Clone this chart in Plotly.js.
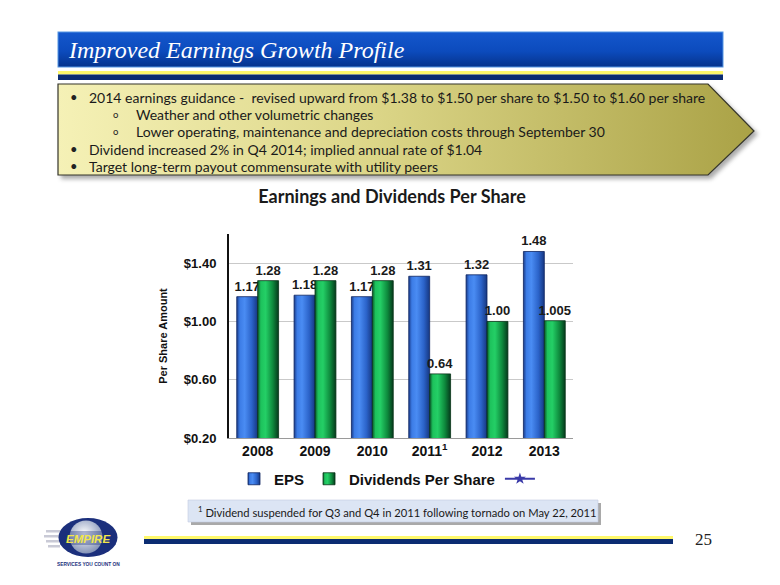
<!DOCTYPE html>
<html><head><meta charset="utf-8">
<script src="https://cdn.plot.ly/plotly-3.0.1.min.js"></script>
<style>html,body{margin:0;padding:0;background:#fff}#chart{width:780px;height:585px}</style>
</head><body><div id="chart"></div>
<script>
// ---- data ----
const years = ['2008', '2009', '2010', '2011', '2012', '2013'];
const yearLabels = ['2008', '2009', '2010', '2011<sup>1</sup>', '2012', '2013'];
const eps = [1.17, 1.18, 1.17, 1.31, 1.32, 1.48];
const epsLabels = ['1.17', '1.18', '1.17', '1.31', '1.32', '1.48'];
const dividends = [1.28, 1.28, 1.28, 0.64, 1.00, 1.005];
const dividendLabels = ['1.28', '1.28', '1.28', '0.64', '1.00', '1.005'];
const unnamedSeries = [null, null, null, null, null, null];
const yTickVals = [0.2, 0.6, 1.0, 1.4];
const yTickText = ['$0.20', '$0.60', '$1.00', '$1.40'];
const seriesNames = ['EPS', 'Dividends Per Share', ' '];
const slideTitle = 'Improved Earnings Growth Profile';
const chartTitle = 'Earnings and Dividends Per Share';
const yAxisTitle = 'Per Share Amount';
const bulletLines = [
  {lvl: 0, text: '2014 earnings guidance -  revised upward from $1.38 to $1.50 per share to $1.50 to $1.60 per share'},
  {lvl: 1, text: 'Weather and other volumetric changes'},
  {lvl: 1, text: 'Lower operating, maintenance and depreciation costs through September 30'},
  {lvl: 0, text: 'Dividend increased 2% in Q4 2014; implied annual rate of $1.04'},
  {lvl: 0, text: 'Target long-term payout commensurate with utility peers'}
];
const footnote = '<sup>1</sup> Dividend suspended for Q3 and Q4 in 2011 following tornado on May 22, 2011';
const pageNumber = '25';

// ---- geometry helpers (plot area in px) ----
const PL = 229, PR = 573, PT = 234, PB = 438;
const PW = PR - PL, PH = PB - PT;
const px = x => (x - PL) / PW;
const py = y => (PB - y) / PH;

const bgSvg = `<svg xmlns='http://www.w3.org/2000/svg' width='780' height='585' viewBox='0 0 780 585'>
<defs>
<linearGradient id='tb' x1='0' y1='0' x2='0' y2='1'><stop offset='0' stop-color='#1457cc'/><stop offset='0.55' stop-color='#0c4bbd'/><stop offset='1' stop-color='#06338c'/></linearGradient>
<linearGradient id='ar' x1='0' y1='0' x2='1' y2='0'><stop offset='0' stop-color='#f5f1b6'/><stop offset='0.45' stop-color='#dcd688'/><stop offset='1' stop-color='#aaa246'/></linearGradient>
<radialGradient id='gl' cx='0.45' cy='0.4' r='0.65'><stop offset='0' stop-color='#ffffff'/><stop offset='1' stop-color='#7a8ab2'/></radialGradient>
<filter id='sh' x='-5%' y='-5%' width='110%' height='120%'><feGaussianBlur stdDeviation='2'/></filter>
</defs>
<rect x='58' y='32' width='665' height='35' fill='url(#tb)' stroke='#5596e4' stroke-width='1'/>
<polygon points='61,87 711,87 758,134 711,179 61,179' fill='#666' opacity='0.55' filter='url(#sh)'/>
<polygon points='58,84 708,84 754,131 708,175 58,175' fill='url(#ar)' stroke='#34342a' stroke-width='1.2'/>
<rect x='46' y='530' width='14' height='2.5' fill='#c9cad6'/>
<rect x='44' y='535' width='16' height='2.5' fill='#c9cad6'/>
<rect x='46' y='540' width='14' height='2.5' fill='#c9cad6'/>
<rect x='48' y='545' width='12' height='2.5' fill='#c9cad6'/>
<ellipse cx='88' cy='537.5' rx='29.5' ry='19.5' fill='#1b2f7c'/>
<circle cx='86' cy='537' r='16.5' fill='url(#gl)'/>
<rect x='60' y='531' width='56' height='14' fill='#1b2f7c' opacity='0.35'/>
</svg>`;

const epsTrace = {
  type: 'bar', name: seriesNames[0], x: years, y: eps,
  text: epsLabels, textposition: 'outside', constraintext: 'none', cliponaxis: false,
  textfont: {family: 'Arial', size: 13, color: '#1a1a1a', weight: 'bold'},
  marker: {color: '#2f6fdc', line: {color: '#0e2560', width: 0.8}},
  hoverinfo: 'skip'
};
const divTrace = {
  type: 'bar', name: seriesNames[1], x: years, y: dividends,
  text: dividendLabels, textposition: 'outside', constraintext: 'none', cliponaxis: false,
  textfont: {family: 'Arial', size: 13, color: '#1a1a1a', weight: 'bold'},
  marker: {color: '#12a84a', line: {color: '#073318', width: 0.8}},
  hoverinfo: 'skip'
};
const lineTrace = {
  type: 'scatter', mode: 'lines+markers', name: seriesNames[2], x: years, y: unnamedSeries,
  line: {color: '#3a3aa8', width: 2}, marker: {symbol: 'star', size: 9, color: '#3a3aa8'},
  hoverinfo: 'skip'
};

const annFont = (fam, size, color, extra) => Object.assign({family: fam, size: size, color: color}, extra || {});
const annotations = [];
annotations.push({xref: 'paper', yref: 'paper', x: px(66), y: py(50), xanchor: 'left', yanchor: 'middle', showarrow: false,
  text: slideTitle, font: annFont('Liberation Serif', 24, '#ffffff', {style: 'italic'})});
const lineY = [97, 114, 131, 149, 166];
bulletLines.forEach((b, i) => {
  const bx = b.lvl === 0 ? 74 : 115;
  const tx = b.lvl === 0 ? 87 : 134;
  annotations.push({xref: 'paper', yref: 'paper', x: px(bx), y: py(lineY[i]), xanchor: 'center', yanchor: 'middle', showarrow: false,
    text: b.lvl === 0 ? '•' : 'o', font: annFont('Lato', b.lvl === 0 ? 13 : 9.5, '#222')});
  annotations.push({xref: 'paper', yref: 'paper', x: px(tx), y: py(lineY[i]), xanchor: 'left', yanchor: 'middle', showarrow: false,
    text: b.text, font: annFont('Lato', 14, '#1a1a1a')});
});
annotations.push({xref: 'paper', yref: 'paper', x: px(196), y: py(511), xanchor: 'left', yanchor: 'middle', showarrow: false,
  text: footnote, font: annFont('Lato', 11.2, '#1a1a1a')});
annotations.push({xref: 'paper', yref: 'paper', x: px(703), y: py(539), xanchor: 'center', yanchor: 'middle', showarrow: false,
  text: pageNumber, font: annFont('Liberation Serif', 17, '#222')});
annotations.push({xref: 'paper', yref: 'paper', x: px(88), y: py(538.5), xanchor: 'center', yanchor: 'middle', showarrow: false,
  text: 'EMPIRE', font: annFont('Arial', 11.5, '#f2e64a', {weight: 'bold', style: 'italic'})});
annotations.push({xref: 'paper', yref: 'paper', x: px(88), y: py(564), xanchor: 'center', yanchor: 'middle', showarrow: false,
  text: 'SERVICES YOU COUNT ON', font: annFont('Arial', 4.8, '#1b2f7c', {weight: 'bold'})});

const rect = (x0, y0, x1, y1, fill, line) => ({type: 'rect', xref: 'paper', yref: 'paper', layer: 'below',
  x0: px(x0), x1: px(x1), y0: py(y1), y1: py(y0), fillcolor: fill, line: line || {width: 0}});
const shapes = [
  rect(58, 71, 723, 74.5, '#fff86a'),
  rect(58, 74.5, 723, 80, '#0b2c72'),
  rect(144, 536, 673, 539, '#fff86a'),
  rect(144, 539, 673, 544, '#0b2c72'),
  rect(191, 503, 601, 525, '#a9a9a9'),
  rect(188, 500, 598, 522, '#dce5f4', {color: '#c3cbe0', width: 0.6})
];

const layout = {
  width: 780, height: 585,
  margin: {l: PL, r: 780 - PR, t: PT, b: 585 - PB, pad: 0},
  paper_bgcolor: '#ffffff', plot_bgcolor: 'rgba(0,0,0,0)',
  barmode: 'group', bargap: 0.27, bargroupgap: 0,
  showlegend: true,
  legend: {orientation: 'h', x: px(392), xanchor: 'center', y: py(479), yanchor: 'middle',
    font: {family: 'Arial', size: 15, color: '#111', weight: 'bold'}, itemwidth: 30, bgcolor: 'rgba(0,0,0,0)'},
  title: {text: chartTitle, x: 392 / 780, xanchor: 'center', xref: 'container', y: 1 - 197 / 585, yanchor: 'middle', yref: 'container',
    font: {family: 'Lato', size: 18, weight: 'bold', color: '#1a1a1a'}},
  xaxis: {type: 'category', tickvals: years, ticktext: yearLabels, showline: true, linecolor: '#9a9a9a', linewidth: 1,
    ticks: '', showgrid: false, tickfont: {family: 'Arial', size: 14, color: '#111', weight: 'bold'}, fixedrange: true},
  yaxis: {range: [0.2, 1.6], tickvals: yTickVals, ticktext: yTickText, showgrid: true, gridcolor: '#c9c9c9', gridwidth: 1,
    showline: true, linecolor: '#111', linewidth: 2, zeroline: false, ticks: '', ticklabelstandoff: 8,
    tickfont: {family: 'Arial', size: 13, color: '#111', weight: 'bold'},
    title: {text: yAxisTitle, standoff: 14, font: {family: 'Arial', size: 11, color: '#111', weight: 'bold'}}, fixedrange: true},
  images: [{source: 'data:image/svg+xml;charset=utf-8,' + encodeURIComponent(bgSvg), xref: 'paper', yref: 'paper',
    x: px(0), y: py(0), sizex: 780 / PW, sizey: 585 / PH, xanchor: 'left', yanchor: 'top', sizing: 'stretch', layer: 'below'}],
  shapes: shapes,
  annotations: annotations
};

const gd = document.getElementById('chart');
Plotly.newPlot(gd, [epsTrace, divTrace, lineTrace], layout, {displayModeBar: false, staticPlot: true}).then(() => {
  const svg = gd.querySelector('svg.main-svg');
  const NS = 'http://www.w3.org/2000/svg';
  const defs = document.createElementNS(NS, 'defs');
  const mk = (id, stops) => {
    const g = document.createElementNS(NS, 'linearGradient');
    g.setAttribute('id', id); g.setAttribute('x1', '0'); g.setAttribute('x2', '1'); g.setAttribute('y1', '0'); g.setAttribute('y2', '0');
    stops.forEach(s => { const st = document.createElementNS(NS, 'stop'); st.setAttribute('offset', s[0]); st.setAttribute('stop-color', s[1]); g.appendChild(st); });
    defs.appendChild(g);
  };
  mk('gradEPS', [[0, '#1a3d8c'], [0.15, '#3c7ce6'], [0.38, '#4a8cf3'], [0.72, '#2b63c9'], [1, '#163781']]);
  mk('gradDIV', [[0, '#0a5628'], [0.15, '#1dc25c'], [0.38, '#24cf66'], [0.72, '#0e8a3d'], [1, '#053a1c']]);
  svg.insertBefore(defs, svg.firstChild);
  const grads = ['url(#gradEPS)', 'url(#gradDIV)'];
  gd.querySelectorAll('.barlayer .trace').forEach((t, i) => {
    t.querySelectorAll('.point path').forEach(p => { p.style.fill = grads[i]; });
  });
  gd.querySelectorAll('.legend .traces').forEach((t, i) => {
    if (i < 2) t.querySelectorAll('.legendpoints path').forEach(p => { p.style.fill = grads[i]; });
  });
});
</script></body></html>
